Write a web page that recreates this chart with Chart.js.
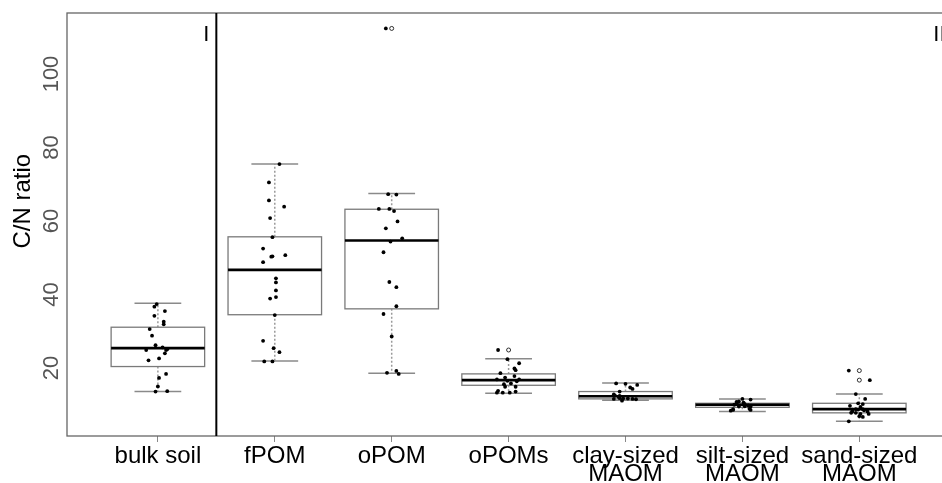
<!DOCTYPE html>
<html>
<head>
<meta charset="utf-8">
<script src="https://cdn.jsdelivr.net/npm/chart.js@4.4.0/dist/chart.umd.min.js"></script>
<style>
    html, body { margin: 0; padding: 0; background: #fff; overflow: hidden; }
</style>
</head>
<body>
<canvas id="myChart" width="955" height="483"></canvas>
<script>
// fractions, left to right
const categories = ['bulk soil', 'fPOM', 'oPOM', 'oPOMs',
    ['clay-sized', 'MAOM'], ['silt-sized', 'MAOM'], ['sand-sized', 'MAOM']];
const yTicks = [20, 40, 60, 80, 100];

// box statistics per fraction
const lowerWhisker = [13.6, 21.9, 18.6, 13.1, 11.2, 8.2, 5.5];
const q1 = [20.4, 34.5, 36.1, 15.3, 11.6, 9.3, 7.8];
const median = [25.4, 46.7, 54.7, 16.7, 12.3, 10.0, 8.8];
const q3 = [31.1, 55.7, 63.2, 18.4, 13.6, 10.4, 10.4];
const upperWhisker = [37.6, 75.5, 67.5, 22.5, 15.9, 11.6, 12.9];
const outliers = [[], [], [112.4], [24.9], [], [], [19.3, 16.7]];

// single samples (C/N) and their horizontal jitter
const samples = [
    [37.4, 36.7, 35.5, 34.2, 32.6, 31.9, 30.6, 28.8, 26.2, 25.6, 24.9, 25.1, 24.9, 24.0, 22.1, 22.6, 18.4, 17.3, 15.0, 13.6, 13.7],
    [75.5, 70.5, 65.6, 63.9, 60.8, 55.6, 52.5, 50.7, 50.4, 50.3, 48.8, 44.4, 43.3, 41.1, 39.3, 38.9, 34.4, 27.4, 25.4, 24.3, 21.8, 21.8],
    [112.4, 67.3, 67.2, 63.3, 63.3, 62.7, 59.9, 58.0, 55.3, 54.4, 51.5, 43.4, 42.0, 36.8, 34.7, 28.6, 18.7, 19.2, 18.4],
    [24.9, 22.4, 21.3, 19.9, 19.4, 18.6, 17.8, 17.4, 16.9, 16.9, 16.4, 16.5, 15.6, 15.8, 14.9, 14.9, 13.8, 13.3, 13.3, 13.3, 13.6],
    [15.8, 15.7, 15.4, 14.7, 14.3, 13.6, 12.8, 12.5, 12.4, 12.2, 11.8, 11.7, 11.6, 11.7, 11.6, 11.5, 11.1],
    [11.6, 11.4, 10.9, 10.8, 10.6, 10.4, 10.2, 10.0, 9.8, 9.6, 9.5, 9.5, 8.9, 8.8, 8.6, 8.4, 8.6],
    [19.3, 16.7, 12.9, 11.6, 10.4, 10.2, 9.7, 9.4, 8.8, 8.7, 8.7, 8.8, 8.5, 8.2, 8.2, 7.8, 7.8, 7.5, 7.5, 6.9, 6.7, 5.5]
];
const jitter = [
    [-0.01, -0.03, 0.06, -0.03, 0.05, 0.05, -0.07, -0.05, -0.02, 0.04, -0.10, 0.08, 0.07, 0.06, -0.08, 0.01, 0.07, 0.01, 0.00, -0.02, 0.08],
    [0.04, -0.05, -0.05, 0.08, -0.04, -0.02, -0.10, 0.09, -0.02, -0.03, -0.10, 0.01, 0.01, 0.01, 0.01, -0.04, 0.00, -0.10, -0.01, 0.04, -0.09, -0.02],
    [-0.05, -0.03, 0.04, -0.11, -0.02, 0.02, 0.05, -0.05, 0.09, -0.01, -0.07, -0.02, 0.04, 0.04, -0.07, 0.00, -0.04, 0.04, 0.06],
    [-0.09, -0.01, 0.09, 0.05, 0.06, -0.07, 0.05, -0.03, -0.10, 0.09, 0.07, -0.01, -0.04, 0.02, 0.06, -0.03, -0.09, -0.10, -0.05, 0.01, 0.06],
    [-0.08, 0.00, 0.10, 0.04, 0.06, -0.05, -0.10, -0.09, -0.05, -0.06, -0.05, -0.02, -0.10, 0.02, 0.06, 0.09, -0.03],
    [0.00, 0.07, -0.03, -0.05, 0.01, -0.05, 0.02, -0.07, 0.05, 0.02, -0.03, 0.07, 0.06, -0.08, 0.07, -0.10, -0.08],
    [-0.09, 0.09, -0.03, 0.05, -0.01, 0.03, -0.08, 0.01, -0.03, -0.01, -0.06, 0.03, 0.04, -0.06, 0.07, -0.07, -0.03, 0.08, 0.01, 0.00, 0.03, -0.09]
];

const pointData = [];
samples.forEach((vals, i) => {
    vals.forEach((v, j) => pointData.push({ x: i + 1 + jitter[i][j], y: v }));
});
const outlierData = [];
outliers.forEach((vals, i) => {
    vals.forEach(v => outlierData.push({ x: i + 1, y: v }));
});

const boxPlugin = {
    id: 'boxes',
    beforeDatasetsDraw(chart) {
        const ctx = chart.ctx;
        const xs = chart.scales.x;
        const ys = chart.scales.y;
        const area = chart.chartArea;
        ctx.save();
        for (let i = 0; i < categories.length; i++) {
            const cx = xs.getPixelForValue(i + 1);
            const half = xs.getPixelForValue(i + 1.4) - cx;
            const yLo = ys.getPixelForValue(lowerWhisker[i]);
            const yQ1 = ys.getPixelForValue(q1[i]);
            const yMed = ys.getPixelForValue(median[i]);
            const yQ3 = ys.getPixelForValue(q3[i]);
            const yHi = ys.getPixelForValue(upperWhisker[i]);
            // whiskers
            ctx.strokeStyle = '#9a9a9a';
            ctx.lineWidth = 1.5;
            ctx.setLineDash([2, 2]);
            ctx.beginPath();
            ctx.moveTo(cx, yQ3); ctx.lineTo(cx, yHi);
            ctx.moveTo(cx, yQ1); ctx.lineTo(cx, yLo);
            ctx.stroke();
            ctx.setLineDash([]);
            ctx.strokeStyle = '#8a8a8a';
            ctx.beginPath();
            ctx.moveTo(cx - half / 2, yHi); ctx.lineTo(cx + half / 2, yHi);
            ctx.moveTo(cx - half / 2, yLo); ctx.lineTo(cx + half / 2, yLo);
            ctx.stroke();
            // box
            ctx.fillStyle = '#fff';
            ctx.fillRect(cx - half, yQ3, half * 2, yQ1 - yQ3);
            ctx.strokeStyle = '#7a7a7a';
            ctx.lineWidth = 1.3;
            ctx.strokeRect(cx - half, yQ3, half * 2, yQ1 - yQ3);
            // median
            ctx.strokeStyle = '#000';
            ctx.lineWidth = 2.6;
            ctx.beginPath();
            ctx.moveTo(cx - half, yMed); ctx.lineTo(cx + half, yMed);
            ctx.stroke();
        }
        // frame
        ctx.strokeStyle = '#666';
        ctx.lineWidth = 1.3;
        ctx.strokeRect(area.left, area.top, area.right - area.left, area.bottom - area.top);
        // separator between I and II
        const sx = xs.getPixelForValue(1.5);
        ctx.strokeStyle = '#000';
        ctx.lineWidth = 2;
        ctx.beginPath();
        ctx.moveTo(sx, area.top); ctx.lineTo(sx, area.bottom);
        ctx.stroke();
        // group labels
        ctx.fillStyle = '#000';
        ctx.font = '22px "Liberation Sans", Arial, sans-serif';
        ctx.textAlign = 'center';
        ctx.textBaseline = 'middle';
        ctx.fillText('I', xs.getPixelForValue(1.414), ys.getPixelForValue(110.6));
        ctx.fillText('II', xs.getPixelForValue(7.685), ys.getPixelForValue(110.6));
        ctx.restore();
    }
};

const ctx = document.getElementById('myChart').getContext('2d');
const myChart = new Chart(ctx, {
    type: 'scatter',
    data: {
        datasets: [{
            label: 'samples',
            data: pointData,
            backgroundColor: '#000',
            borderColor: '#000',
            pointRadius: 1.9,
            borderWidth: 0
        },
        {
            label: 'outliers',
            data: outlierData,
            backgroundColor: '#fff',
            borderColor: '#000',
            pointRadius: 2,
            borderWidth: 0.8
        }]
    },
    options: {
        responsive: false,
        animation: false,
        layout: { padding: { top: 13, right: 4, left: 0, bottom: 0 } },
        plugins: {
            legend: { display: false },
            tooltip: { enabled: false }
        },
        scales: {
            x: {
                type: 'linear',
                min: 0.2226,
                max: 7.7774,
                afterBuildTicks: (scale) => {
                    scale.ticks = categories.map((c, i) => ({ value: i + 1 }));
                },
                afterFit: (scale) => { scale.height = 47; },
                border: { display: false },
                grid: { drawOnChartArea: false, drawTicks: true, tickLength: 6, tickColor: '#888' },
                ticks: {
                    autoSkip: false,
                    maxRotation: 0,
                    padding: 6,
                    color: '#000',
                    font: { family: '"Liberation Sans", Arial, sans-serif', size: 24, lineHeight: 0.72 },
                    callback: (v) => categories[Math.round(v) - 1]
                }
            },
            y: {
                type: 'linear',
                min: 1.5,
                max: 116.6,
                afterBuildTicks: (scale) => {
                    scale.ticks = yTicks.map(v => ({ value: v }));
                },
                afterFit: (scale) => { scale.width = 67; },
                border: { display: false },
                grid: { display: false, drawTicks: false },
                title: {
                    display: true,
                    text: '       C/N ratio',
                    color: '#000',
                    padding: { top: 11, bottom: 0 },
                    font: { family: '"Liberation Sans", Arial, sans-serif', size: 24, lineHeight: 1 }
                },
                ticks: {
                    autoSkip: false,
                    minRotation: 90,
                    maxRotation: 90,
                    crossAlign: 'center',
                    padding: -3,
                    color: '#555',
                    font: { family: '"Liberation Sans", Arial, sans-serif', size: 22 }
                }
            }
        }
    },
    plugins: [boxPlugin]
});
</script>
</body>
</html>
